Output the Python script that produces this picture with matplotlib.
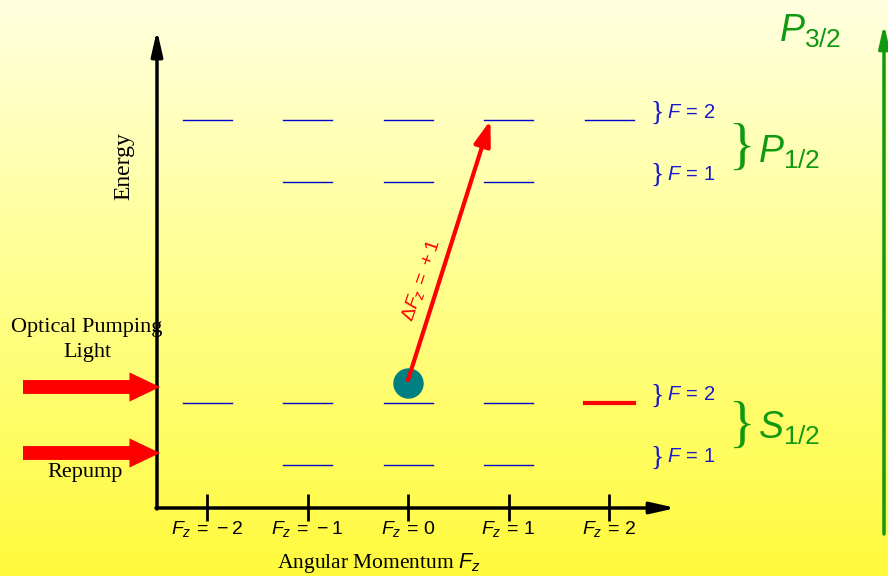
import numpy as np
import matplotlib
matplotlib.use("Agg")
import matplotlib.pyplot as plt
from matplotlib.patches import FancyArrowPatch
from matplotlib.colors import LinearSegmentedColormap

plt.rcParams.update({
    "mathtext.fontset": "custom",
    "mathtext.rm": "Liberation Sans",
    "mathtext.it": "Liberation Sans:italic",
    "mathtext.sf": "Liberation Sans",
})

# data: Zeeman sublevels of the hyperfine levels
fz_ticks = [-2, -1, 0, 1, 2]
tick_labels = [r"$F_z\,=\,-2$", r"$F_z\,=\,-1$", r"$F_z\,=\,0$", r"$F_z\,=\,1$", r"$F_z\,=\,2$"]
level_f = [2, 1, 2, 1]
level_energy = [5.56, 4.56, 1.0, 0.0]
level_fz = [[-2, -1, 0, 1, 2], [-1, 0, 1], [-2, -1, 0, 1], [-1, 0, 1]]
populated_fz = 2          # dark state, drawn in red (S F=2)
atom_fz = 0
excite_to = (0.82, 5.56)  # end of the sigma+ transition arrow

# pixel <-> diagram unit mapping
X0, SX = 408, 100.5
Y0, SY = 465, 62
W, H = 888, 576
def fx(px):
    return (px - X0) / SX
def fy(py):
    return (Y0 - py) / SY

fig = plt.figure(figsize=(8.88, 5.76), dpi=100)
ax = fig.add_axes([0, 0, 1, 1])
ax.set_xlim(fx(0), fx(W))
ax.set_ylim(fy(H), fy(0))
ax.axis("off")

# background gradient
bg = LinearSegmentedColormap.from_list("bg", ["#fffa3c", "#ffff8c", "#ffffe0"])
grad = np.linspace(0, 1, 256).reshape(-1, 1)
ax.imshow(grad, cmap=bg, aspect="auto", extent=[fx(0), fx(W), fy(H), fy(0)],
          origin="lower", zorder=0)

def arrow(p0, p1, color="black", lw=2.5, style="-|>,head_length=0.75,head_width=0.17", ms=20, z=3):
    a = FancyArrowPatch(p0, p1, arrowstyle=style, mutation_scale=ms, color=color,
                        lw=lw, shrinkA=0, shrinkB=0, zorder=z)
    ax.add_patch(a)

# axes arrows
arrow((fx(157), fy(509)), (fx(157), fy(30)))
arrow((fx(156), fy(508)), (fx(676), fy(508)))

# ticks and labels
for v, lab in zip(fz_ticks, tick_labels):
    ax.plot([v, v], [fy(494), fy(521)], color="black", lw=2, zorder=3,
            solid_capstyle="butt")
    ax.text(v, fy(529), lab, ha="center", va="center", fontsize=14)

ax.text(fx(379), fy(563), r"Angular Momentum $F_z$", ha="center", va="center",
        fontsize=15.5, family="Liberation Serif")
ax.text(fx(124), fy(166), "Energy", rotation=90, ha="center", va="center",
        fontsize=17, family="Liberation Serif")

# energy levels
hw = 24.5 / SX
for e, fzs in zip(level_energy, level_fz):
    for v in fzs:
        ax.plot([v - hw, v + hw], [e, e], color="#0000cc", lw=1.0, zorder=2)
ax.plot([populated_fz - hw, populated_fz + hw], [level_energy[2]] * 2,
        color="red", lw=3, zorder=2)

# hyperfine labels
for e, f in zip(level_energy, level_f):
    yy = e + fy(112) - fy(120)
    ax.text(fx(650), yy - 0.02, "}", ha="left", va="center", fontsize=20,
            color="#1a1acc", family="Liberation Serif")
    ax.text(fx(667), yy, r"$F\,=\,%d$" % f, ha="left", va="center",
            fontsize=14.5, color="#1a1acc")

green = "#119911"
ax.text(fx(729), fy(150), "}", ha="left", va="center", fontsize=40, color=green,
        family="Liberation Serif")
ax.text(fx(758), fy(152), r"$P_{1/2}$", ha="left", va="center", fontsize=27, color=green)
ax.text(fx(729), fy(428), "}", ha="left", va="center", fontsize=40, color=green,
        family="Liberation Serif")
ax.text(fx(758), fy(428), r"$S_{1/2}$", ha="left", va="center", fontsize=27, color=green)
ax.text(fx(779), fy(31), r"$P_{3/2}$", ha="left", va="center", fontsize=27, color=green)
arrow((fx(884), fy(534)), (fx(884), fy(24)), color=green, lw=2.5, ms=18)

# atom and transition
ax.scatter([atom_fz], [fy(383)], s=480, color="#008080", zorder=4, linewidths=0)
arrow((atom_fz, fy(380)), excite_to, color="red", lw=3,
      style="-|>,head_length=0.75,head_width=0.25", ms=20, z=5)
ax.text(fx(421), fy(280), r"$\Delta F_z\,=\,+1$", rotation=71, ha="center", va="center",
        fontsize=14, color="red")

# pumping and repump beams
for py in [387, 453]:
    arrow((fx(23), fy(py)), (fx(160), fy(py)), color="red", lw=0,
          style="simple,head_length=2.2,head_width=2.1,tail_width=1.0", ms=10, z=4)
ax.text(fx(87), fy(340), "Optical Pumping\nLight", ha="center", va="center",
        fontsize=16, family="Liberation Serif", linespacing=1.45)
ax.text(fx(85), fy(473), "Repump", ha="center", va="center",
        fontsize=16, family="Liberation Serif")

fig.savefig("out.png", dpi=100)
